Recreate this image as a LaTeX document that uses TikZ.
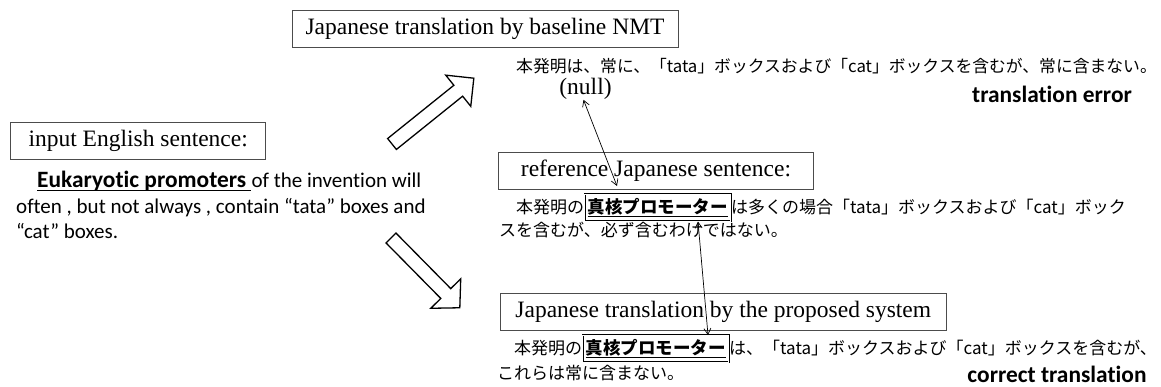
\documentclass[tikz,border=0pt]{standalone}
\usepackage{fontspec}
\setmainfont{Liberation Serif}
\newfontfamily\calfont[Ligatures=NoCommon]{Carlito}
\newfontfamily\jpfont{Noto Sans CJK JP}
\usetikzlibrary{arrows.meta,calc}
\begin{document}
\begin{tikzpicture}[x=1pt,y=-1pt,
  lbl/.style={draw=black!70, line width=0.8pt, font=\fontsize{23.5}{28}\selectfont, inner sep=0pt, minimum height=37pt},
  en/.style={font=\calfont\fontsize{21}{25}\selectfont, inner sep=0pt, anchor=base west},
  enb/.style={font=\calfont\bfseries\fontsize{23.4}{28}\selectfont, inner sep=0pt},
  jp/.style={font=\jpfont\fontsize{17}{20}\selectfont, inner sep=0pt, anchor=base west},
  kaku/.style={font=\jpfont\bfseries\fontsize{17.5}{20}\selectfont, draw, double, double distance=0.8pt, line width=0.6pt, inner xsep=3pt, inner ysep=4pt, anchor=base west},
  blockarrow/.style={draw, line width=1.3pt, fill=white, line join=miter},
  link/.style={{Straight Barb[length=6pt,width=7pt]}-{Straight Barb[length=6pt,width=7pt]}, line width=0.7pt}
]
\path[use as bounding box] (0,0) rectangle (1161,387);

% boxes
\node[lbl, minimum width=255pt] (inbox) at (138.2,140.8) {input English sentence:};
\node[lbl, minimum width=386pt] (nmtbox) at (485,29) {Japanese translation by baseline NMT};
\node[lbl, minimum width=314.6pt] (refbox) at (656,170.7) {reference Japanese sentence:};
\node[lbl, minimum width=446.7pt] (propbox) at (723.3,311.7) {Japanese translation by the proposed system};

% English sentence
\node[enb, anchor=base west] (e1a) at (37,188) {Eukaryotic promoters\rule{5pt}{0pt}};
\node[en] (e1b) at (e1a.base east) {of the invention will};
\draw[line width=1pt] ($(e1a.base west)+(0,3)$) -- ($(e1a.base east)+(0,3)$);
\node[en] (e2) at (16,214) {often , but not always , contain “tata” boxes and};
\node[en] (e3) at (16,239) {“cat” boxes.};

% baseline NMT
\node[jp, font=\jpfont\fontsize{16.8}{20}\selectfont] (n1) at (516,72.5) {本発明は、常に、「tata」ボックスおよび「cat」ボックスを含むが、常に含まない。};
\node[font=\fontsize{23.5}{28}\selectfont, inner sep=0pt] (nullnode) at (585.5,89) {(null)};
\node[enb] (err) at (1052,94) {translation error};

% reference
\node[jp] (r1a) at (499,213.5) {　本発明の};
\node[kaku] (r1b) at (r1a.base east) {\underline{真核プロモーター}};
\node[jp] (r1c) at (r1b.base east) {は多くの場合「tata」ボックスおよび「cat」ボック};
\node[jp] (r2) at (499,237) {スを含むが、必ず含むわけではない。};

% proposed
\node[jp] (p1a) at (497,354.5) {　本発明の};
\node[kaku] (p1b) at (p1a.base east) {\underline{真核プロモーター}};
\node[jp] (p1c) at (p1b.base east) {は、「tata」ボックスおよび「cat」ボックスを含むが、};
\node[jp] (p2) at (497,379.5) {これらは常に含まない。};
\node[enb] (ok) at (1057,374.5) {correct translation};

% block arrows
\begin{scope}[shift={(392,144)},rotate=38.8]
\draw[blockarrow] (0,-7) -- (85,-7) -- (85,-20) -- (105,0) -- (85,20) -- (85,7) -- (0,7) -- cycle;
\end{scope}
\begin{scope}[shift={(391,238)},rotate=-45.4]
\draw[blockarrow] (0,-7) -- (78,-7) -- (78,-21) -- (98,0) -- (78,21) -- (78,7) -- (0,7) -- cycle;
\end{scope}

% thin links
\coordinate (a1e) at (617,186);
\coordinate (a2x) at (698,0);
\coordinate (a2y) at (708,0);
\draw[link] ([xshift=-2pt]nullnode.south) -- (a1e);
\draw[link] (r1b.south -| a2x) -- (p1b.north -| a2y);
\end{tikzpicture}
\end{document}
